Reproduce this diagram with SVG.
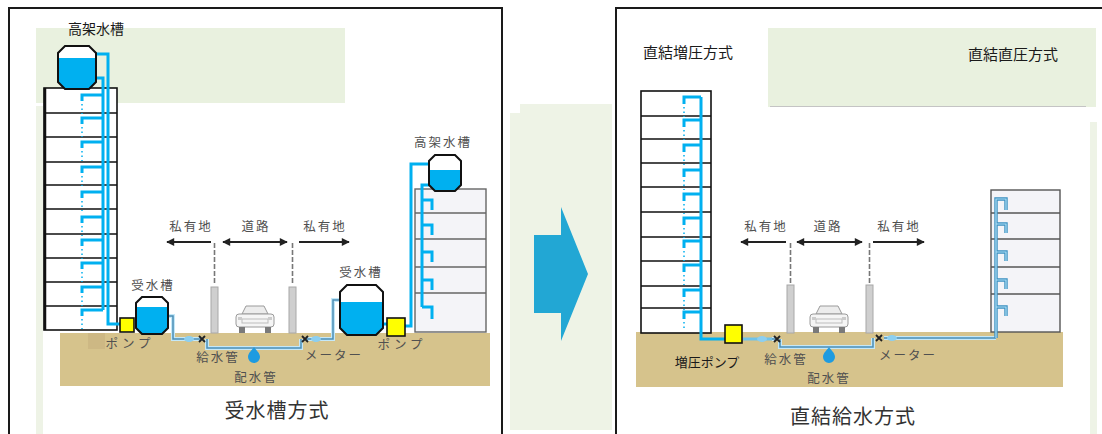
<svg xmlns="http://www.w3.org/2000/svg" width="1102" height="434" viewBox="0 0 1102 434">
<defs>
<style>
.frame{fill:none;stroke:#1a1a1a;stroke-width:2}
.band{fill:#e9f1df}
.pale{fill:#eef3e6}
.ground{fill:#d6c38c}
.patch{fill:#cdb884}
.bldg{fill:#fff;stroke:#111;stroke-width:1.6}
.bldg2{fill:#f4f4f8;stroke:#666;stroke-width:1.4}
.floor{stroke:#111;stroke-width:1.6}
.floor2{stroke:#666;stroke-width:1.4}
.pipe{fill:none;stroke:#00b0f0;stroke-width:3}
.tap{fill:none;stroke:#00b0f0;stroke-width:1.5;stroke-dasharray:1.5 3}
.opipe{fill:none;stroke:#3a8fc0;stroke-width:3.4}
.ipipe{fill:none;stroke:#aee0f5;stroke-width:1.2}
.tank{fill:#fff}
.tankline{fill:none;stroke:#111;stroke-width:2}
.water{fill:#00b0f0}
.pump{fill:#ffff00;stroke:#111;stroke-width:1.6}
.svc{fill:none;stroke:#4a8db5;stroke-width:1.5}
.svcglow{fill:none;stroke:#c4e8f8;stroke-width:4}
.feed{fill:none;stroke:#6fc3ea;stroke-width:3}
.meter{fill:#8ccff0}
.main{fill:#1e9be0}
.post{fill:#cfcfcf;stroke:#a8a8a8;stroke-width:1}
.mark{stroke:#777;stroke-width:1.6;stroke-dasharray:5 2}
.arrow{stroke:#222;stroke-width:2;fill:none}
.t{font-family:"Noto Sans CJK JP","Noto Sans",sans-serif}
.lbl{font-size:12.5px;fill:#505050;letter-spacing:2px;text-anchor:middle}
.cap{fill:#1a1a1a}
.title{font-size:20px;fill:#333;text-anchor:middle;letter-spacing:1px}
</style>
<marker id="ah" viewBox="0 0 10 10" refX="9" refY="5" markerWidth="9" markerHeight="8" markerUnits="userSpaceOnUse" orient="auto-start-reverse">
<path d="M0,0 L10,5 L0,10 z" fill="#222"/>
</marker>
<g id="car">
<path d="M7 10 L11 2 H29 L33 10 Z" fill="#ececec" stroke="#9a9a9a" stroke-width="1"/>
<rect x="1" y="10" width="38" height="13" rx="3" fill="#f5f5f5" stroke="#9a9a9a" stroke-width="1"/>
<rect x="7" y="15" width="26" height="4" fill="none" stroke="#bdbdbd" stroke-width="1"/>
<rect x="3" y="13" width="4" height="3" fill="#ccc"/>
<rect x="33" y="13" width="4" height="3" fill="#ccc"/>
<rect x="4" y="23" width="6" height="6" fill="#7a7a7a"/>
<rect x="30" y="23" width="6" height="6" fill="#7a7a7a"/>
</g>
<path id="valve" d="M-3 -3 L3 3 M-3 3 L3 -3" stroke="#222" stroke-width="1.8"/>
<path id="drop" d="M0,-10 C2,-7 6,-4 6,0 A6,6 0 1,1 -6,0 C-6,-4 -2,-7 0,-10 Z"/>
</defs>

<!-- frames and backgrounds -->
<rect class="frame" x="9" y="8" width="493" height="450"/>
<rect class="frame" x="616" y="8" width="500" height="450"/>
<rect class="band" x="36" y="28" width="309" height="75"/>
<rect class="pale" x="36" y="106" width="7" height="328"/>
<rect class="band" x="768" y="28" width="328" height="79"/>
<line x1="770" y1="106.5" x2="1086" y2="106.5" stroke="#c4c4c4" stroke-width="1"/>
<rect class="pale" x="1090" y="122" width="7" height="312"/>
<path class="pale" d="M520 104 H612 V430 H510 V113 H520 Z"/>

<!-- ground -->
<rect class="ground" x="60" y="333" width="430" height="53"/>
<rect class="patch" x="88" y="333" width="17" height="16"/>
<rect class="ground" x="636" y="332" width="427" height="55"/>

<!-- buildings -->
<g id="highrise-left">
<rect class="bldg" x="44" y="88" width="73" height="242"/>
<line x1="45" y1="88" x2="45" y2="330" stroke="#111" stroke-width="2.5"/>
<path class="floor" d="M44 113 H117 M44 137 H117 M44 162 H117 M44 185 H117 M44 209 H117 M44 234 H117 M44 258 H117 M44 282 H117 M44 306 H117"/>
</g>
<g id="lowrise-left">
<rect class="bldg2" x="415" y="189" width="71" height="143"/>
<path class="floor2" d="M415 213 H486 M415 239 H486 M415 267 H486 M415 293 H486"/>
</g>
<g id="highrise-right">
<rect class="bldg" x="641" y="91" width="70" height="242"/>
<path class="floor" d="M641 116 H711 M641 139 H711 M641 163 H711 M641 187 H711 M641 212 H711 M641 237 H711 M641 261 H711 M641 286 H711 M641 308 H711"/>
</g>
<g id="lowrise-right">
<rect class="bldg2" x="991" y="190" width="69" height="142" style="stroke:#555"/>
<path class="floor2" d="M991 213 H1060 M991 239 H1060 M991 267 H1060 M991 294 H1060" style="stroke:#555"/>
</g>

<!-- connectors -->
<g id="connectors">
<!-- left panel: high-rise risers -->
<path class="pipe" d="M88 54 H108 V324 H120"/>
<path class="pipe" d="M92 78 H103 V310"/>
<path class="pipe" d="M103 95 H82 V101 M103 118 H82 V124 M103 142 H82 V148 M103 167 H82 V173 M103 192 H82 V198 M103 217 H82 V223 M103 240 H82 V246 M103 263 H82 V269 M103 287 H82 V293 M103 310 H82 V316"/>
<path class="tap" d="M82 104 V114 M82 127 V137 M82 151 V161 M82 176 V186 M82 201 V211 M82 226 V236 M82 249 V259 M82 272 V282 M82 296 V306 M82 319 V329"/>
<!-- left panel: low-rise risers -->
<path class="pipe" d="M383 324 H388"/>
<path class="pipe" d="M405 326 H411 V164 H438"/>
<path class="pipe" d="M429 185 H422 V307"/>
<path class="pipe" d="M422 200 H432 V210 M422 225 H432 V235 M422 252 H432 V262 M422 280 H432 V290 M422 307 H432 V319"/>
<!-- left panel: service line -->
<path class="svcglow" d="M168 316 H173 V339 H203 M207 339 V348 H301 V339 M305 339 H333 V300 H340"/>
<path class="svc" d="M168 316 H173 V339 H203 M207 339 V348 H301 V339 M305 339 H333 V300 H340"/>
<ellipse class="meter" cx="189" cy="339" rx="5" ry="3"/>
<ellipse class="meter" cx="316" cy="339" rx="5" ry="3"/>
<use href="#valve" x="202" y="339"/>
<use href="#valve" x="305" y="339"/>
<!-- right panel: booster riser -->
<path class="pipe" d="M701 97 V339 H725"/>
<path class="pipe" d="M701 97 H684 V104 M701 120 H684 V127 M701 145 H684 V152 M701 170 H684 V177 M701 194 H684 V201 M701 218 H684 V225 M701 241 H684 V248 M701 265 H684 V272 M701 290 H684 V297 M701 312 H684 V319"/>
<path class="tap" d="M684 107 V117 M684 130 V140 M684 155 V165 M684 180 V190 M684 204 V214 M684 228 V238 M684 251 V261 M684 275 V285 M684 300 V310 M684 322 V330"/>
<!-- right panel: service line -->
<path class="feed" d="M743 339 H772"/>
<path class="svcglow" d="M772 339 H776 M780 339 V347 H873 V338 M884 338 H996"/>
<path class="svc" d="M772 339 H776 M780 339 V347 H873 V338 M884 338 H996"/>
<ellipse class="meter" cx="762" cy="339" rx="5" ry="3"/>
<ellipse class="meter" cx="892" cy="338" rx="5" ry="3"/>
<use href="#valve" x="777" y="339"/>
<use href="#valve" x="879" y="338"/>
<!-- right panel: direct riser -->
<path class="opipe" d="M996 338 V199 H1006 V210 M996 224 H1006 V233 M996 252 H1006 V261 M996 280 H1006 V289 M996 307 H1006 V316"/>
<path class="ipipe" d="M996 338 V199 H1006 V210 M996 224 H1006 V233 M996 252 H1006 V261 M996 280 H1006 V289 M996 307 H1006 V316"/>
<!-- boundary arrows -->
<line class="arrow" x1="211" y1="242" x2="167" y2="242" marker-end="url(#ah)"/>
<line class="arrow" x1="223" y1="242" x2="287" y2="242" marker-start="url(#ah)" marker-end="url(#ah)"/>
<line class="arrow" x1="299" y1="242" x2="349" y2="242" marker-end="url(#ah)"/>
<line class="arrow" x1="786" y1="242" x2="741" y2="242" marker-end="url(#ah)"/>
<line class="arrow" x1="797" y1="242" x2="862" y2="242" marker-start="url(#ah)" marker-end="url(#ah)"/>
<line class="arrow" x1="873" y1="242" x2="924" y2="242" marker-end="url(#ah)"/>
</g>

<!-- tanks and pumps -->
<g id="roof-tank-left">
<path class="tank" d="M65 46H89L96 53V82L89 89H65L58 82V53Z"/>
<path class="water" d="M58 58H96V82L89 89H65L58 82Z"/>
<path class="tankline" d="M65 46H89L96 53V82L89 89H65L58 82V53Z"/>
</g>
<g id="pump-left"><rect class="pump" x="120" y="318" width="14" height="14"/></g>
<g id="receiving-tank-left">
<path class="tank" d="M142 297H162L168 303V328L162 334H142L136 328V303Z"/>
<path class="water" d="M136 307H168V328L162 334H142L136 328Z"/>
<path class="tankline" d="M142 297H162L168 303V328L162 334H142L136 328V303Z"/>
</g>
<g id="receiving-tank-right">
<path class="tank" d="M347 285H376L383 292V328L376 335H347L340 328V292Z"/>
<path class="water" d="M340 302H383V328L376 335H347L340 328Z"/>
<path class="tankline" d="M347 285H376L383 292V328L376 335H347L340 328V292Z"/>
</g>
<g id="pump-right"><rect class="pump" x="387" y="318" width="18" height="18"/></g>
<g id="roof-tank-right">
<path class="tank" d="M435 155H455L461 161V185L455 191H435L429 185V161Z"/>
<path class="water" d="M429 170H461V185L455 191H435L429 185Z"/>
<path class="tankline" d="M435 155H455L461 161V185L455 191H435L429 185V161Z"/>
</g>
<g id="booster-pump"><rect class="pump" x="725" y="325" width="17" height="18"/></g>

<!-- road boundaries -->
<g id="road-left">
<line class="mark" x1="214.5" y1="243" x2="214.5" y2="285"/>
<rect class="post" x="211" y="287" width="7" height="46"/>
<line class="mark" x1="292.5" y1="243" x2="292.5" y2="285"/>
<rect class="post" x="289" y="287" width="7" height="46"/>
<use href="#car" x="235" y="304"/>
<use href="#drop" x="254" y="357" class="main"/>
</g>
<g id="road-right">
<line class="mark" x1="790.5" y1="243" x2="790.5" y2="283"/>
<rect class="post" x="787" y="285" width="7" height="48"/>
<line class="mark" x1="869.5" y1="243" x2="869.5" y2="283"/>
<rect class="post" x="866" y="285" width="7" height="48"/>
<use href="#car" x="809" y="304"/>
<use href="#drop" x="829" y="357" class="main"/>
</g>

<!-- labels -->
<g id="labels-left" class="t">
<text class="cap" x="68" y="34" font-size="14">高架水槽</text>
<text class="lbl" x="191" y="231">私有地</text>
<text class="lbl" x="256" y="231">道路</text>
<text class="lbl" x="325" y="231">私有地</text>
<text class="lbl" x="443" y="147">高架水槽</text>
<text class="lbl" x="153" y="290">受水槽</text>
<text class="lbl" x="361" y="277">受水槽</text>
<text class="lbl" x="130" y="348" style="letter-spacing:4px">ポンプ</text>
<text class="lbl" x="402" y="349" style="letter-spacing:4px">ポンプ</text>
<text class="lbl" x="218" y="362">給水管</text>
<text class="lbl" x="256" y="382">配水管</text>
<text class="lbl" x="334" y="360">メーター</text>
<text class="title" x="277" y="418">受水槽方式</text>
</g>

<!-- centre arrow -->
<g id="transition-arrow">
<polygon points="534,235 561,235 561,207 588,274 561,341 561,313 534,313" fill="#22a7d4"/>
</g>

<g id="labels-right" class="t">
<text class="cap" x="643" y="58" font-size="15">直結増圧方式</text>
<text class="cap" x="968" y="60" font-size="15">直結直圧方式</text>
<text class="lbl" x="766" y="231">私有地</text>
<text class="lbl" x="828" y="231">道路</text>
<text class="lbl" x="899" y="231">私有地</text>
<text class="cap" x="707" y="367" font-size="13" text-anchor="middle">増圧ポンプ</text>
<text class="lbl" x="786" y="364">給水管</text>
<text class="lbl" x="829" y="383">配水管</text>
<text class="lbl" x="908" y="360">メーター</text>
<text class="title" x="853" y="424">直結給水方式</text>
</g>
</svg>
